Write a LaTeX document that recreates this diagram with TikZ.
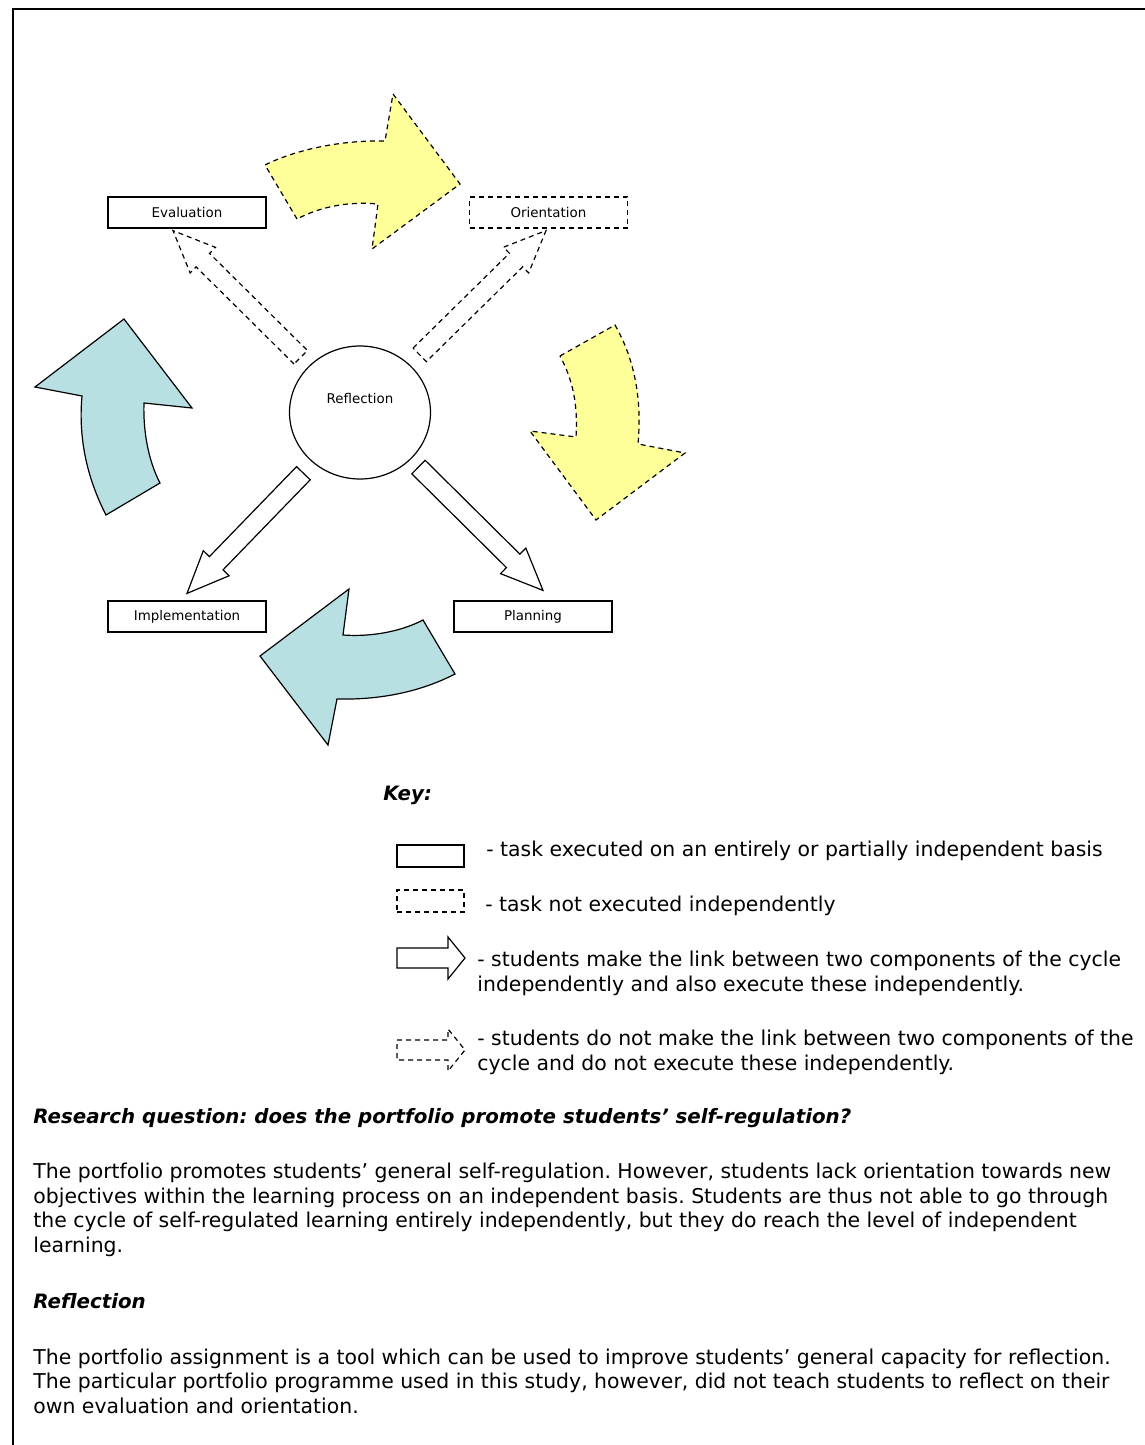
\documentclass[tikz,border=0pt]{standalone}
\usepackage{fontspec}
\setmainfont{DejaVu Sans}
\usetikzlibrary{calc,shapes.geometric}
\definecolor{cycyellow}{RGB}{255,255,153}
\definecolor{cycblue}{RGB}{184,224,227}
\frenchspacing
%
% block arrow from #2 to #3, sizes from \basw, \bahw, \bahl
\newcommand{\basw}{4.75pt}
\newcommand{\bahw}{9pt}
\newcommand{\bahl}{21pt}
\newcommand{\blockarrow}[3]{%
  \coordinate (BA1) at (#2);
  \coordinate (BA2) at (#3);
  \coordinate (BAN) at ($(BA2)!\bahl!(BA1)$);
  \draw [#1] ($(BA1)!\basw!90:(BA2)$) -- ($(BAN)!\basw!90:(BA2)$)
     -- ($(BAN)!\bahw!90:(BA2)$) -- (BA2) -- ($(BAN)!\bahw!-90:(BA2)$)
     -- ($(BAN)!\basw!-90:(BA2)$) -- ($(BA1)!\basw!-90:(BA2)$) -- cycle;
}
\begin{document}
\begin{tikzpicture}
[
 x=0.5pt, y=-0.5pt,
 inner sep=0.5mm,
 TASK/.style={rectangle, draw=black, line width=0.6pt, minimum width=79pt, minimum height=15.5pt, font=\fontsize{6.7}{8}\selectfont},
 TASKDASH/.style={TASK, dash pattern=on 2.5pt off 2pt},
 REFL/.style={ellipse, draw=black, line width=0.6pt, minimum width=70.5pt, minimum height=66.5pt, inner sep=0pt},
 SMALL/.style={font=\fontsize{6.7}{8}\selectfont},
 LINKSOLID/.style={draw=black, line width=0.6pt, fill=white},
 LINKDASH/.style={LINKSOLID, dash pattern=on 2.5pt off 2pt},
 YELLOWARR/.style={draw=black, fill=cycyellow, line width=0.6pt, dash pattern=on 2.5pt off 2pt},
 BLUEARR/.style={draw=black, fill=cycblue, line width=0.6pt},
 KEYBOX/.style={rectangle, draw=black, line width=0.6pt, minimum width=33.5pt, minimum height=11pt},
 BODY/.style={anchor=west, inner sep=0pt, align=left, font=\fontsize{10.2}{12.25}\selectfont},
 HEAD/.style={BODY, font=\fontsize{9.9}{12.25}\selectfont\bfseries\itshape},
 ]
\useasboundingbox (0,0) rectangle (1145,1445);
%
% frame
\draw [line width=1pt] (1145,9) -- (13,9) -- (13,1445);
%
% the five components
\node [TASK]     (EV) at (187,212.5) {Evaluation};
\node [TASKDASH] (OR) at (548.5,212.5) {Orientation};
\node [TASK]     (IM) at (187,616.5) {Implementation};
\node [TASK]     (PL) at (533,616.5) {Planning};
\node [REFL]     (RF) at (360,412.5) {};
\node [SMALL]         at ([yshift=7pt]RF.center) {Reflection};
%
% links from reflection
\blockarrow{LINKDASH}{$(RF)+(137:40.5pt)$}{$(EV.south)+(-7pt,-1pt)$}
\blockarrow{LINKDASH}{$(RF)+(44:41.5pt)$}{$(OR.south)+(-1.25pt,-1pt)$}
\blockarrow{LINKSOLID}{$(RF)+(227:41.5pt)$}{$(IM.north)+(0,3.5pt)$}
\blockarrow{LINKSOLID}{$(RF)+(317:40pt)$}{$(PL.north)+(5pt,5pt)$}
%
% cycle arrows
\draw [YELLOWARR] (297,219) -- (265,165) .. controls (295,150) and (340,140) .. (385,141)
   -- (393,94) -- (460,184) -- (372,249) -- (378,204)
   .. controls (345,201) and (318,208) .. cycle;
\draw [YELLOWARR] (560,356) -- (615,325) .. controls (635,360) and (642,400) .. (638,444)
   -- (685,453) -- (596,520) -- (530,431) -- (576,437)
   .. controls (578,405) and (573,380) .. cycle;
\draw [BLUEARR] (423,620) -- (455,674) .. controls (420,692) and (380,700) .. (337,699)
   -- (328,745) -- (260,656) -- (349,589) -- (343,635)
   .. controls (370,637) and (400,632) .. cycle;
\draw [BLUEARR] (106,515) -- (160,483) .. controls (148,460) and (143,430) .. (144,403)
   -- (192,408) -- (124,319) -- (35,387) -- (82,396)
   .. controls (78,440) and (88,480) .. cycle;
%
% key
\node [HEAD] (KEY) at (383,795) {Key:};
\node [KEYBOX] (K1) at (430.5,856) {};
\node [KEYBOX, dash pattern=on 2.5pt off 2pt] (K2) at (430.5,901) {};
\renewcommand{\basw}{5pt}
\renewcommand{\bahw}{10.5pt}
\renewcommand{\bahl}{8.5pt}
\blockarrow{LINKSOLID}{397,958}{465,958}
\blockarrow{LINKDASH}{397,1050}{465,1050}
\node [BODY] (T1) at (486,851) {- task executed on an entirely or partially independent basis};
\node [BODY] (T2) at (485,906) {- task not executed independently};
\node [BODY] (T3) at (477,973.5) {- students make the link between two components of the cycle\\independently and also execute these independently.};
\node [BODY] (T4) at (477,1052.5) {- students do not make the link between two components of the\\cycle and do not execute these independently.};
%
% text below
\node [HEAD] (Q)  at (33,1118) {Research question: does the portfolio promote students’ self-regulation?};
\node [BODY] (A)  at (33,1210) {The portfolio promotes students’ general self-regulation. However, students lack orientation towards new\\objectives within the learning process on an independent basis. Students are thus not able to go through\\the cycle of self-regulated learning entirely independently, but they do reach the level of independent\\learning.};
\node [HEAD] (RH) at (33,1301) {Reflection};
\node [BODY] (B)  at (33,1381) {The portfolio assignment is a tool which can be used to improve students’ general capacity for reflection.\\The particular portfolio programme used in this study, however, did not teach students to reflect on their\\own evaluation and orientation.};
%
\end{tikzpicture}
\end{document}
